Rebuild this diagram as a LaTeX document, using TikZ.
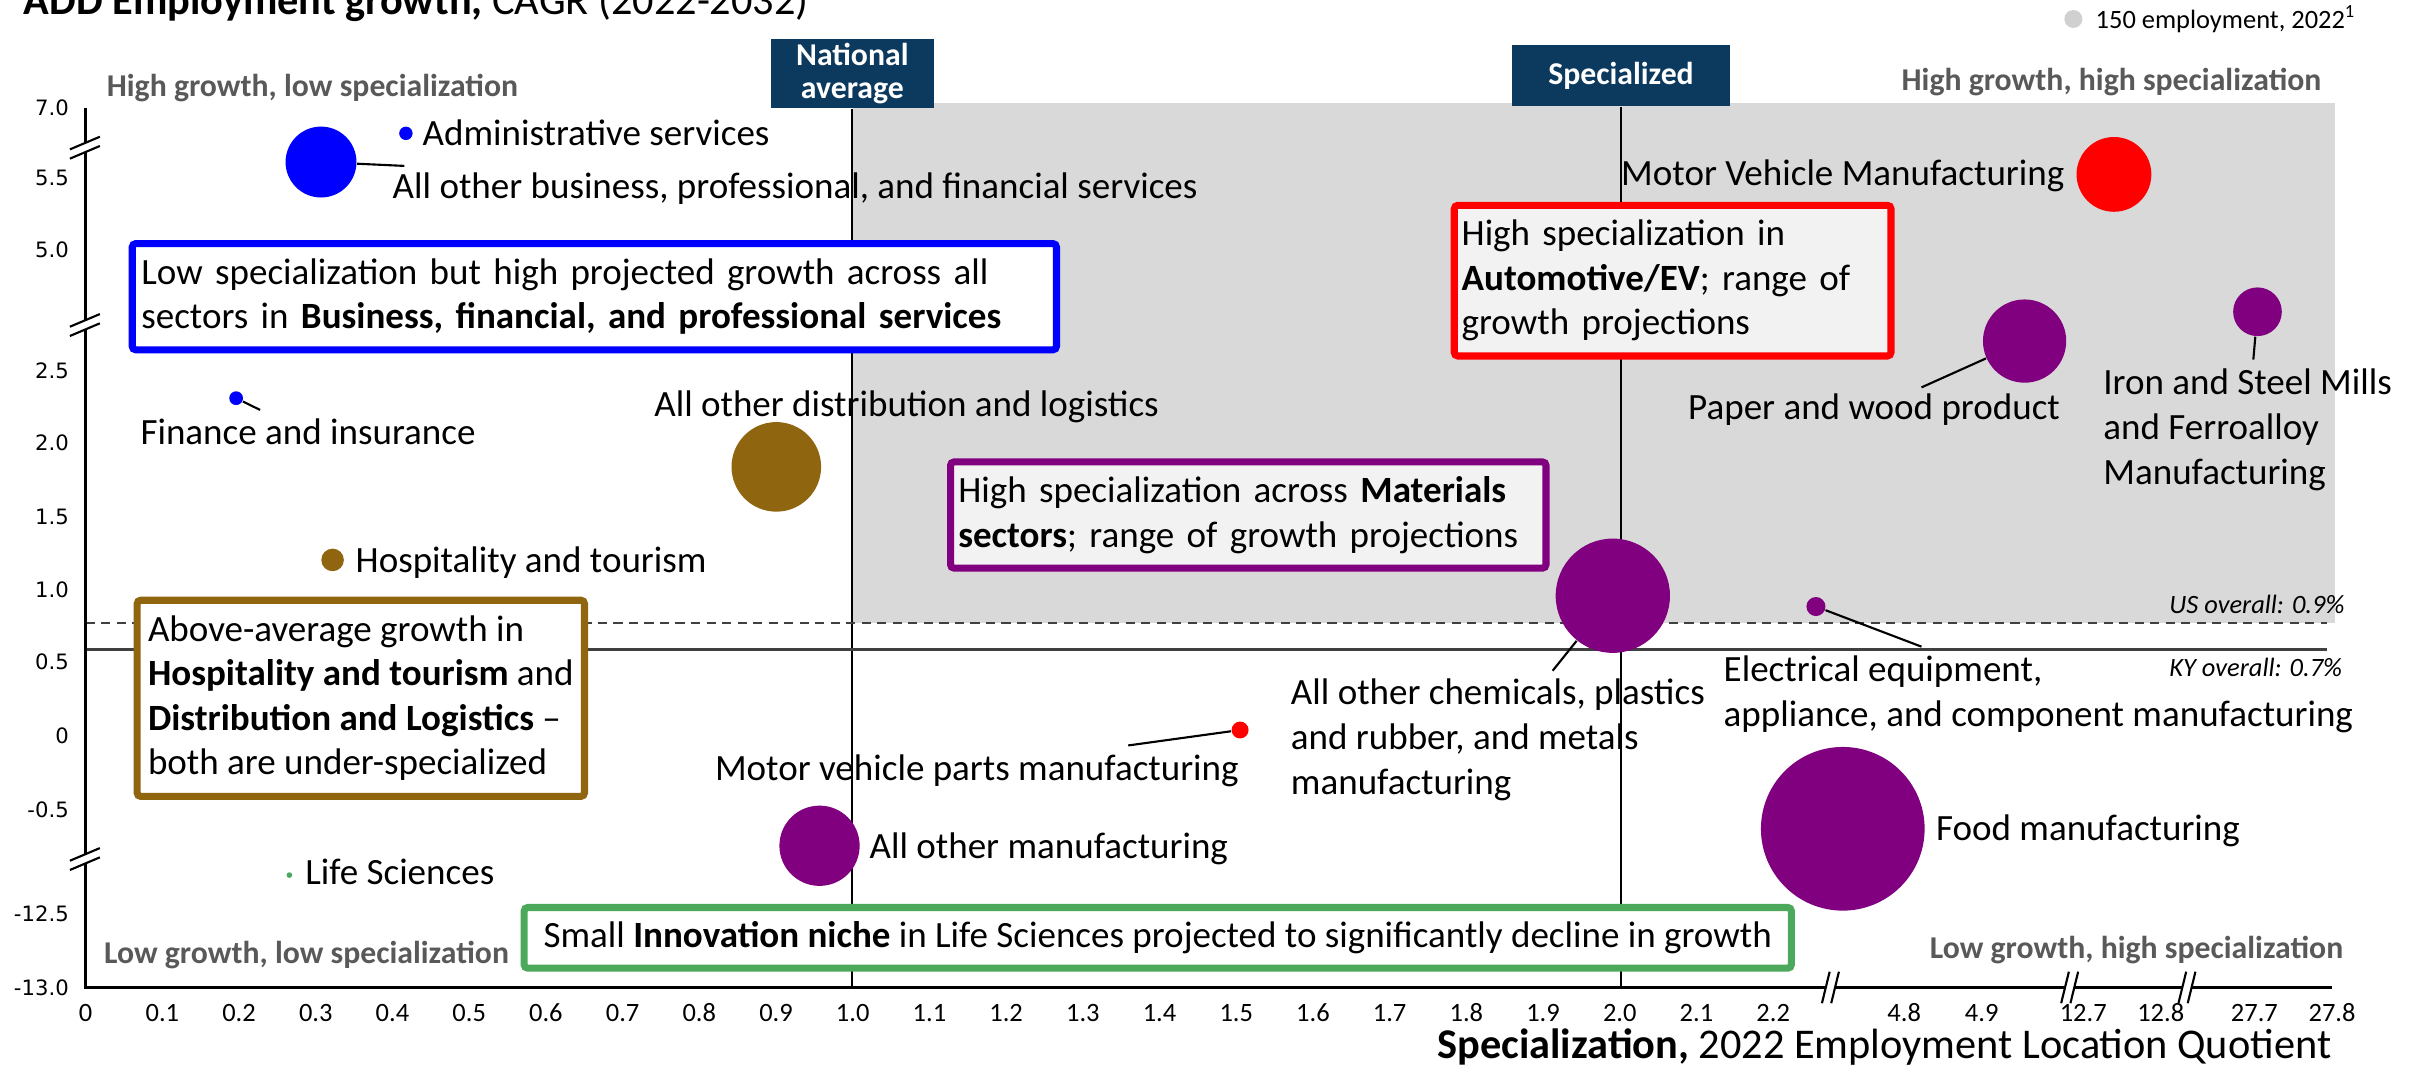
\documentclass[tikz,border=0pt]{standalone}
\usepackage{fontspec}
\setmainfont{Carlito}
\newfontfamily\tickfont{DejaVu Sans}
\usepackage{tikz}
\definecolor{navyhdr}{RGB}{12, 57, 94}
\definecolor{quadgrey}{RGB}{89, 89, 89}
\definecolor{shadegrey}{RGB}{217, 217, 217}
\definecolor{boxfill}{RGB}{242, 242, 242}
\definecolor{sectorblue}{RGB}{0, 0, 255}
\definecolor{sectorred}{RGB}{255, 0, 0}
\definecolor{sectorpurple}{RGB}{128, 0, 128}
\definecolor{sectorbrown}{RGB}{143, 101, 15}
\definecolor{sectorgreen}{RGB}{76, 168, 90}
\definecolor{legendgrey}{RGB}{208, 208, 208}
\definecolor{lineblack}{RGB}{64, 64, 64}

\begin{document}
\begin{tikzpicture}[
        x=0.4375pt, y=-0.4375pt,
        lbl/.style={inner sep=0pt, anchor=base west, font=\fontsize{10.5}{12.8}\selectfont},
        mlbl/.style={lbl, align=left, anchor=north west},
        quad/.style={inner sep=0pt, anchor=base west, text=quadgrey, font=\bfseries\fontsize{9}{11}\selectfont},
        hdr/.style={rectangle, fill=navyhdr, text=white, inner sep=0pt, align=center, font=\bfseries\fontsize{9}{9.5}\selectfont},
        note/.style={rectangle, draw=#1, line width=2pt, rounded corners=1pt, fill=white, inner ysep=0pt, align=left, font=\fontsize{10.5}{12.6}\selectfont},
        bubble/.style={circle, fill=#1, draw=none, inner sep=0pt},
        leader/.style={draw=black, line width=0.6pt},
        refline/.style={draw=black, line width=0.5pt},
        axisline/.style={draw=black, line width=0.8pt},
        brkline/.style={draw=black, line width=0.6pt},
        xtick/.style={inner sep=0pt, anchor=base, font=\fontsize{7.5}{9}\selectfont},
        ytick/.style={inner sep=0pt, anchor=east, font=\tickfont\fontsize{6}{7}\selectfont},
        overall/.style={inner sep=0pt, anchor=base east, font=\itshape\fontsize{7.5}{9}\selectfont}
    ]
    \useasboundingbox (0,0) rectangle (1568,696);

    % Shaded high growth / high specialization area
    \fill[shadegrey] (553,67) rectangle (1513,403.5);

    % Titles and legend
    \node[inner sep=0pt, anchor=base west, font=\fontsize{12}{14}\selectfont] (ttl) at (15,9.7) {\textbf{ADD Employment growth,} CAGR (2022-2032)};
    \node[inner sep=0pt, anchor=base east, font=\fontsize{12}{14}\selectfont] (xttl) at (1511,685.7) {\textbf{Specialization,} 2022 Employment Location Quotient};
    \node[bubble=legendgrey, minimum size=5.1pt] (legdot) at (1343.4,12.3) {};
    \node[inner sep=0pt, anchor=base west, font=\fontsize{7.5}{9}\selectfont] (legtxt) at (1357.4,18.3) {150 employment, 2022\textsuperscript{1}};

    % Headers of the reference lines
    \node[hdr, minimum width=46.2pt, minimum height=19.7pt] (natavg) at (552.25,47.5) {National\\average};
    \node[hdr, minimum width=61.9pt, minimum height=17.5pt] (spec) at (1050.3,49) {Specialized};

    % Axes and reference lines
    \coordinate (origin) at (55.5,639.7);
    \coordinate (ytop) at (55.5,70);
    \coordinate (xend) at (1511,639.7);
    \draw[refline] (natavg) -- (natavg |- origin);
    \draw[refline] (spec) -- (spec |- origin);
    \draw[lineblack, line width=0.5pt, dash pattern=on 2.6pt off 1.8pt] (55.5,403.5) -- (1508,403.5);
    \draw[lineblack, line width=0.8pt] (55.5,420.7) -- (1507.7,420.7);
    \draw[axisline] (ytop) -- (origin) -- (xend);

    % Axis breaks
    \foreach \yb in {95.7,210.6,556.6} {
        \fill[white] (45.3,\yb+1.1) -- (64.7,\yb-7.1) -- (64.7,\yb-1.1) -- (45.3,\yb+7.1) -- cycle;
        \draw[brkline] (45.3,\yb+1.1) -- (64.7,\yb-7.1);
        \draw[brkline] (45.3,\yb+7.1) -- (64.7,\yb-1.1);
    }
    \foreach \xb in {1186,1341,1417} {
        \fill[white] (\xb-5.5,650) -- (\xb-0.5,629.6) -- (\xb+5.5,629.6) -- (\xb+0.5,650) -- cycle;
        \draw[brkline] (\xb-5.5,650) -- (\xb-0.5,629.6);
        \draw[brkline] (\xb+0.5,650) -- (\xb+5.5,629.6);
    }

    % Tick labels
    \foreach \yv/\yl [count=\k] in {70/7.0, 115/5.5, 162/5.0, 240/2.5, 287/2.0, 335/1.5, 382/1.0, 429/0.5, 477/0, 525/-0.5, 592/-12.5, 640/-13.0}
        \node[ytick] (yt\k) at (45,\yv) {\yl};
    \foreach \xv/\xl [count=\k] in {55.5/0, 105.2/0.1, 154.9/0.2, 204.6/0.3, 254.3/0.4, 304/0.5, 353.7/0.6, 403.4/0.7, 453.1/0.8, 502.8/0.9, 552.5/1.0, 602.2/1.1, 651.9/1.2, 701.6/1.3, 751.3/1.4, 801/1.5, 850.7/1.6, 900.4/1.7, 950.1/1.8, 999.8/1.9, 1049.5/2.0, 1099.2/2.1, 1148.9/2.2, 1233.8/4.8, 1284/4.9, 1349.8/12.7, 1400/12.8, 1460.7/27.7, 1511/27.8}
        \node[xtick] (xt\k) at (\xv,662) {\xl};

    % Quadrant names and overall growth
    \node[quad] (qhl) at (68.8,62.6) {High growth, low specialization};
    \node[quad, anchor=base east] (qhh) at (1504.5,58.8) {High growth, high specialization};
    \node[quad] (qll) at (67,624) {Low growth, low specialization};
    \node[quad, anchor=base east] (qlh) at (1518.7,621) {Low growth, high specialization};
    \node[overall] (usall) at (1519.5,397.4) {US overall: 0.9\%};
    \node[overall] (kyall) at (1518,438.4) {KY overall: 0.7\%};

    % Business, financial and professional services
    \node[bubble=sectorblue, minimum size=3.8pt] (admin) at (263,86.4) {};
    \node[bubble=sectorblue, minimum size=20.1pt] (bizsvc) at (208,105) {};
    \node[bubble=sectorblue, minimum size=3.9pt] (finance) at (153,258) {};
    \node[lbl] (adminlbl) at (273.4,94) {Administrative services};
    \node[lbl] (bizsvclbl) at (254,128.5) {All other business, professional, and financial services};
    \node[lbl] (financelbl) at (90.6,287.7) {Finance and insurance};
    \coordinate (bizsvcend) at (262,107.5);
    \coordinate (financeend) at (168.5,265.6);
    \draw[leader] (bizsvc) -- (bizsvcend);
    \draw[leader] (finance) -- (financeend);

    % Distribution and hospitality
    \node[bubble=sectorbrown, minimum size=25.4pt] (distlog) at (503,302.5) {};
    \node[bubble=sectorbrown, minimum size=6.4pt] (hosp) at (215.5,362.8) {};
    \node[lbl] (distloglbl) at (423.5,270) {All other distribution and logistics};
    \node[lbl] (hosplbl) at (230,371) {Hospitality and tourism};

    % Automotive
    \node[bubble=sectorred, minimum size=21.2pt] (motorveh) at (1369.7,113) {};
    \node[bubble=sectorred, minimum size=4.8pt] (mvparts) at (803.5,473) {};
    \node[lbl, anchor=base east] (motorvehlbl) at (1338,120) {Motor Vehicle Manufacturing};
    \node[lbl, anchor=base east] (mvpartslbl) at (803,505.4) {Motor vehicle parts manufacturing};
    \coordinate (mvpartsend) at (731,483);
    \draw[leader] (mvparts) -- (mvpartsend);

    % Materials and other manufacturing
    \node[bubble=sectorpurple, minimum size=23.6pt] (paper) at (1311.8,221) {};
    \node[bubble=sectorpurple, minimum size=13.8pt] (iron) at (1462.7,202) {};
    \node[bubble=sectorpurple, minimum size=32.4pt] (chem) at (1045,386) {};
    \node[bubble=sectorpurple, minimum size=5.4pt] (elec) at (1176.6,393) {};
    \node[bubble=sectorpurple, minimum size=46.4pt] (food) at (1194,537) {};
    \node[bubble=sectorpurple, minimum size=22.75pt] (othmfg) at (531,548) {};
    \node[lbl] (paperlbl) at (1093.4,272) {Paper and wood product};
    \node[mlbl] (ironlbl) at (1362.4,238.5) {Iron and Steel Mills\\and Ferroalloy\\Manufacturing};
    \node[mlbl] (chemlbl) at (836,439.4) {All other chemicals, plastics\\and rubber, and metals\\manufacturing};
    \node[mlbl] (eleclbl) at (1116.4,424.3) {Electrical equipment,\\appliance, and component manufacturing};
    \node[lbl] (foodlbl) at (1254,544.5) {Food manufacturing};
    \node[lbl] (othmfglbl) at (563,556.5) {All other manufacturing};
    \coordinate (paperend) at (1245,251);
    \coordinate (ironend) at (1460,233);
    \coordinate (chemend) at (1006,434.6);
    \coordinate (elecend) at (1245,419);
    \draw[leader] (paper) -- (paperend);
    \draw[leader] (iron) -- (ironend);
    \draw[leader] (chem) -- (chemend);
    \draw[leader] (elec) -- (elecend);

    % Life sciences
    \node[bubble=sectorgreen, minimum size=1.6pt] (lifesci) at (187.5,567) {};
    \node[lbl] (lifescilbl) at (197.4,573.4) {Life Sciences};

    % Callout boxes
    \node[note=sectorblue, text width=256.8pt, inner xsep=2.6pt, minimum height=30.1pt] (bluenote) at (385.1,192.25) {Low specialization but high projected growth across all\\sectors in \textbf{Business, financial, and professional services}};
    \node[note=sectorred, fill=boxfill, text width=119.6pt, inner xsep=2.1pt, minimum height=42.7pt] (rednote) at (1083.75,181.85) {High specialization in\\\textbf{Automotive/EV}; range of\\growth projections};
    \node[note=sectorpurple, fill=boxfill, text width=164.4pt, inner xsep=2.2pt, minimum height=30.1pt] (purplenote) at (808.8,333.7) {High specialization across \textbf{Materials}\\\textbf{sectors}; range of growth projections};
    \node[note=sectorbrown, minimum width=126.8pt, inner xsep=2.5pt, minimum height=55.6pt] (brownnote) at (233.8,452.45) {Above-average growth in\\\textbf{Hospitality and tourism} and\\\textbf{Distribution and Logistics} --\\both are under-specialized};
    \node[note=sectorgreen, minimum width=359.2pt, inner xsep=2.2pt, minimum height=17.2pt] (greennote) at (750.15,607.65) {Small \textbf{Innovation niche} in Life Sciences projected to significantly decline in growth};

\end{tikzpicture}
\end{document}
